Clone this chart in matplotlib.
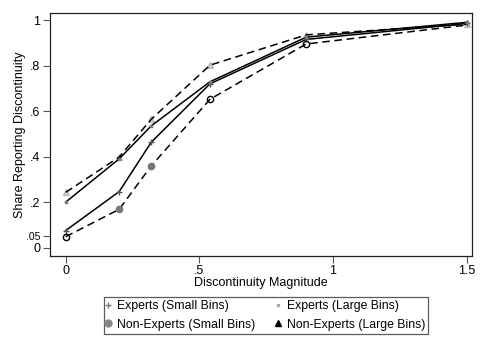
import matplotlib
matplotlib.use("Agg")
import matplotlib.pyplot as plt
from matplotlib.lines import Line2D

plt.rcParams['font.family'] = ['Liberation Sans', 'DejaVu Sans']

magnitude = [0, 0.2, 0.32, 0.54, 0.9, 1.5]
experts_small = [0.075, 0.246, 0.463, 0.72, 0.915, 0.985]
experts_large = [0.2, 0.39, 0.535, 0.729, 0.925, 0.99]
nonexp_small = [0.048, 0.168, 0.359, 0.652, 0.895, 0.978]
nonexp_large = [0.243, 0.398, 0.564, 0.802, 0.935, 0.982]

yticks = [0, 0.05, 0.2, 0.4, 0.6, 0.8, 1]
ytick_labels = ['0', '.05', '.2', '.4', '.6', '.8', '1']
xticks = [0, 0.5, 1, 1.5]
xtick_labels = ['0', '.5', '1', '1.5']

fig = plt.figure(figsize=(4.85, 3.52), dpi=100)
ax = fig.add_axes([0.103, 0.274, 0.870, 0.689])

dash = (0, (5, 3))
ax.plot(magnitude, experts_small, color='black', lw=1.1, zorder=3)
ax.plot(magnitude, experts_large, color='black', lw=1.1, zorder=3)
ax.plot(magnitude, nonexp_small, color='black', lw=1.1, ls=dash, zorder=3)
ax.plot(magnitude, nonexp_large, color='black', lw=1.1, ls=dash, zorder=3)

# markers
ax.plot(magnitude, experts_small, ls='none', marker='+', ms=4.5, mew=1,
        color='#555555', zorder=4)
ax.plot(magnitude, experts_large, ls='none', marker='s', ms=2,
        color='#777777', zorder=4)
ax.plot(magnitude[1:3], nonexp_small[1:3], ls='none', marker='o', ms=4.5,
        color='#777777', zorder=4)
ax.plot([magnitude[i] for i in (0, 3, 4)], [nonexp_small[i] for i in (0, 3, 4)],
        ls='none', marker='o', ms=4.5, mfc='none', mec='black', mew=1, zorder=4)
ax.plot(magnitude, nonexp_large, ls='none', marker='^', ms=4.5, mfc='#cccccc',
        mec='#bbbbbb', zorder=2)

ax.set_xlim(-0.059, 1.52)
ax.set_ylim(-0.035, 1.031)
ax.set_xticks(xticks)
ax.set_xticklabels(xtick_labels)
ax.set_yticks(yticks)
ax.set_yticklabels(ytick_labels)
ax.tick_params(labelsize=9, length=5, width=0.8, color='#555555', pad=2)
ax.get_yticklabels()[1].set_fontsize(7.5)
for s in ax.spines.values():
    s.set_linewidth(0.9)
    s.set_color('#222222')
ax.set_xlabel('Discontinuity Magnitude', fontsize=9, labelpad=0)
ax.set_ylabel('Share Reporting Discontinuity', fontsize=9, labelpad=0)

handles = [
    Line2D([], [], ls='none', marker='+', ms=5, color='#777777'),
    Line2D([], [], ls='none', marker='o', ms=5, color='#888888'),
    Line2D([], [], ls='none', marker='s', ms=2, color='#aaaaaa'),
    Line2D([], [], ls='none', marker='^', ms=5, color='black'),
]
labels = ['Experts (Small Bins)', 'Non-Experts (Small Bins)',
          'Experts (Large Bins)', 'Non-Experts (Large Bins)']
leg = fig.legend(handles, labels, ncol=2, loc='center', bbox_to_anchor=(0.549, 0.104),
                 fontsize=8.8, frameon=True, fancybox=False, edgecolor='#333333',
                 handlelength=0.2, handletextpad=0.6, columnspacing=1.8,
                 labelspacing=0.55, borderpad=0.25)
leg.get_frame().set_linewidth(0.9)

fig.savefig('out.png', dpi=100)
